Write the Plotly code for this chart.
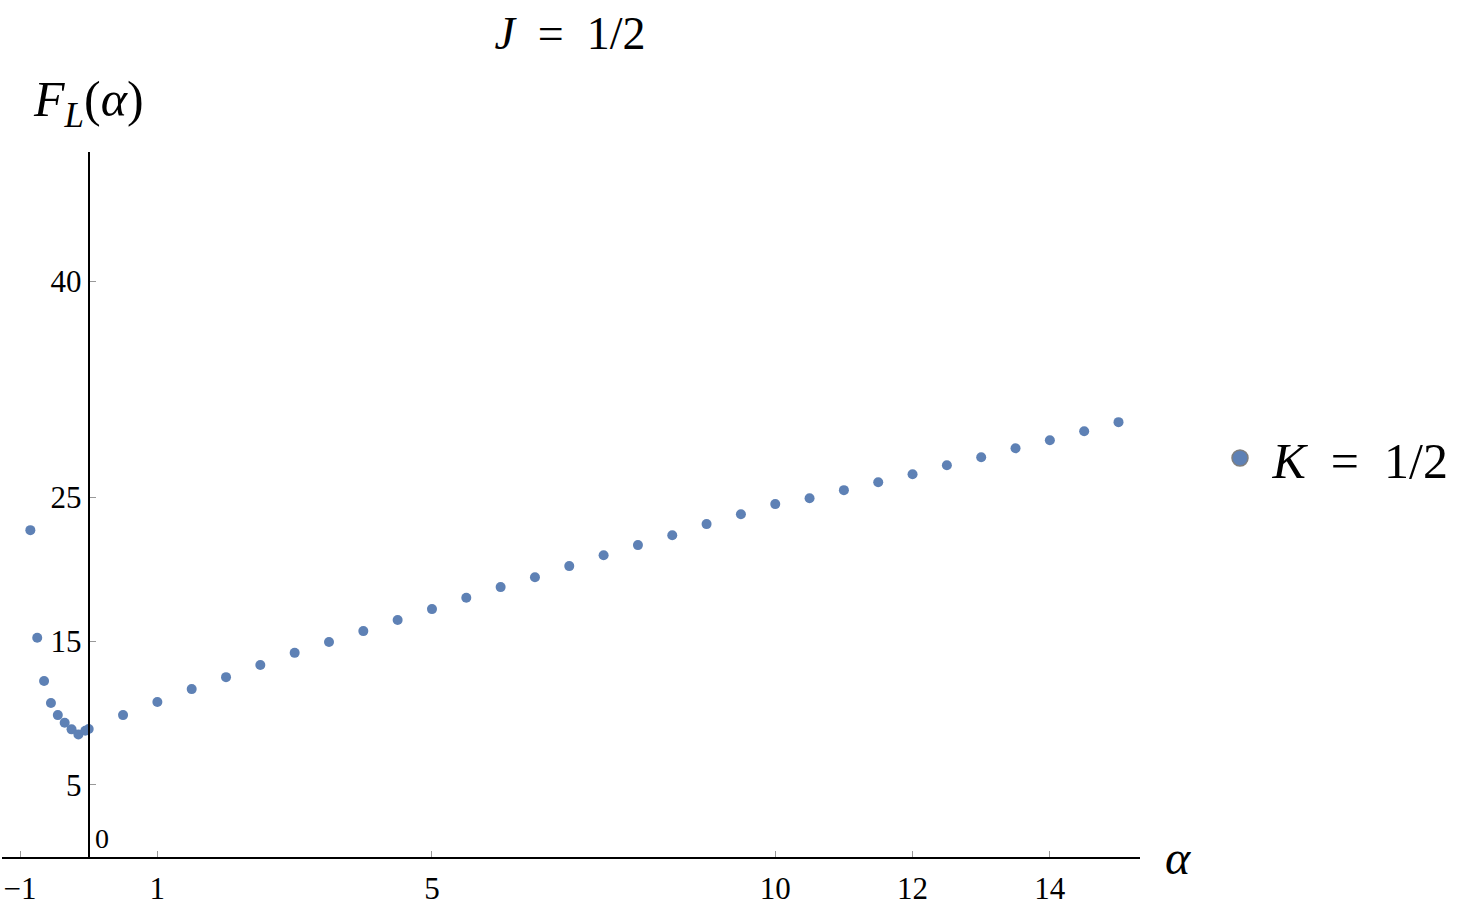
import plotly.graph_objects as go

# ---- data ----
alpha = [-0.85, -0.75, -0.65, -0.55, -0.45, -0.35, -0.25, -0.15, -0.05, 0.0,
         0.5, 1.0, 1.5, 2.0, 2.5, 3.0, 3.5, 4.0, 4.5, 5.0,
         5.5, 6.0, 6.5, 7.0, 7.5, 8.0, 8.5, 9.0, 9.5, 10.0,
         10.5, 11.0, 11.5, 12.0, 12.5, 13.0, 13.5, 14.0, 14.5, 15.0]
F_L = [22.71, 15.23, 12.22, 10.69, 9.85, 9.32, 8.86, 8.51, 8.76, 8.88,
       9.85, 10.76, 11.66, 12.49, 13.33, 14.18, 14.93, 15.69, 16.46, 17.22,
       18.01, 18.75, 19.44, 20.21, 20.97, 21.67, 22.36, 23.13, 23.82, 24.52,
       24.93, 25.49, 26.04, 26.60, 27.22, 27.78, 28.40, 28.96, 29.59, 30.22]

x_tickvals = [-1, 1, 5, 10, 12, 14]
x_ticktext = ["\u22121", "1", "5", "10", "12", "14"]
y_tickvals = [5, 15, 25, 40]
y_ticktext = ["5", "15", "25", "40"]

NB = "\u00a0"
series_name = NB + "<i>K</i>" + NB * 2 + "=" + NB * 2 + "1/2"
title_text = "<i>J</i>" + NB * 2 + "=" + NB * 2 + "1/2"
ylabel_text = "<i>F</i><sub><i>L</i></sub>(<i>\u03b1</i>)"
xlabel_text = "<i>\u03b1</i>"

COLOR = "#5E81B5"
FONT = "Liberation Serif"
W, H = 1467, 917

fig = go.Figure()
fig.add_trace(go.Scatter(
    x=alpha, y=F_L, mode="markers",
    marker=dict(color=COLOR, size=10, line=dict(width=0)),
    showlegend=False, hoverinfo="x+y",
))
# legend entry (no data of its own)
fig.add_trace(go.Scatter(
    x=[None], y=[None], mode="markers", name=series_name,
    marker=dict(color=COLOR, size=16, line=dict(width=1.5, color="#7f7f7f")),
    showlegend=True,
))

fig.update_layout(
    width=W, height=H,
    margin=dict(l=0, r=0, t=0, b=0),
    paper_bgcolor="white", plot_bgcolor="white",
    font=dict(family=FONT, color="black", size=31),
    title=dict(text=title_text, x=570 / W, xanchor="center",
               y=1 - 33 / H, yanchor="middle",
               font=dict(family=FONT, size=46, color="black")),
    xaxis=dict(
        domain=[2 / W, 1140 / W],
        range=[-1.263, 15.313],
        tickmode="array", tickvals=x_tickvals, ticktext=x_ticktext,
        ticks="inside", ticklen=6, tickwidth=1, tickcolor="#999999",
        showline=True, linecolor="black", linewidth=2,
        showgrid=False, zeroline=False, automargin=False,
        ticklabelstandoff=3,
        tickfont=dict(family=FONT, size=31, color="black"),
    ),
    yaxis=dict(
        domain=[(H - 856.8) / H, (H - 152) / H],
        range=[0, 49],
        anchor="free", position=88.7 / W,
        tickmode="array", tickvals=y_tickvals, ticktext=y_ticktext,
        ticks="inside", ticklen=6, tickwidth=1, tickcolor="#999999",
        showline=True, linecolor="black", linewidth=2,
        showgrid=False, zeroline=False, automargin=False,
        tickfont=dict(family=FONT, size=31, color="black"),
    ),
    legend=dict(
        x=1220 / W, xanchor="left", y=1 - 458 / H, yanchor="middle",
        font=dict(family=FONT, size=50, color="black"),
        bgcolor="rgba(0,0,0,0)", itemsizing="trace",
    ),
    annotations=[
        dict(text=ylabel_text, xref="paper", yref="paper",
             x=88 / W, y=1 - 103 / H, xanchor="center", yanchor="middle",
             showarrow=False, font=dict(family=FONT, size=50, color="black")),
        dict(text=xlabel_text, xref="paper", yref="paper",
             x=1178 / W, y=1 - 857 / H, xanchor="center", yanchor="middle",
             showarrow=False, font=dict(family=FONT, size=48, color="black")),
        dict(text="0", xref="paper", yref="paper",
             x=102 / W, y=1 - 838 / H, xanchor="center", yanchor="middle",
             showarrow=False, font=dict(family=FONT, size=28, color="black")),
    ],
)

fig.write_html("out.html")
